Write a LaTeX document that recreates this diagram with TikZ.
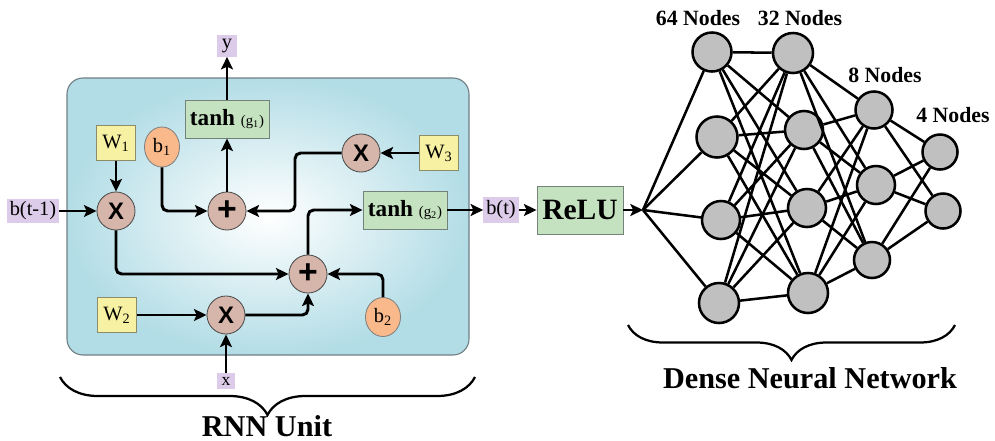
\documentclass[tikz,border=0pt]{standalone}
\usepackage{fontspec}
\setmainfont{Liberation Serif}
\newfontfamily\opfont{Liberation Sans}
\usetikzlibrary{arrows.meta,shapes.geometric,decorations.pathreplacing}

\definecolor{rnnblue}{HTML}{B3DDE6}
\definecolor{rnnborder}{HTML}{6F7F84}
\definecolor{iopurple}{HTML}{DCCBE9}
\definecolor{wyellow}{HTML}{F6F1A3}
\definecolor{wborder}{HTML}{8C8C6A}
\definecolor{actgreen}{HTML}{C4E2BF}
\definecolor{actborder}{HTML}{74837A}
\definecolor{opbrown}{HTML}{D6B6AB}
\definecolor{borange}{HTML}{F9B98B}
\definecolor{nodegray}{HTML}{C0C0C0}

\begin{document}
\begin{tikzpicture}[x=0.025cm,y=-0.025cm,
        op/.style={circle, draw=black!70, line width=0.6pt, fill=opbrown, minimum size=9.5mm, inner sep=0pt, font=\opfont\bfseries\fontsize{17}{17}\selectfont},
        plusop/.style={op, font=\opfont\bfseries\fontsize{24}{24}\selectfont},
        wbox/.style={rectangle, draw=wborder, line width=0.6pt, fill=wyellow, minimum width=9.75mm, minimum height=8.75mm, inner sep=0pt, font=\fontsize{14.5}{14.5}\selectfont},
        bias/.style={ellipse, draw=black!50, line width=0.6pt, fill=borange, minimum width=8.75mm, minimum height=10mm, inner sep=0pt, font=\fontsize{14.5}{14.5}\selectfont},
        act/.style={rectangle, draw=actborder, line width=0.6pt, fill=actgreen, minimum width=21mm, minimum height=9.5mm, inner sep=0pt, font=\bfseries\fontsize{16.5}{16.5}\selectfont},
        io/.style={rectangle, fill=iopurple, inner sep=1.5pt, minimum height=6mm, font=\fontsize{14.5}{14.5}\selectfont},
        neuron/.style={circle, draw, line width=1.8pt, fill=nodegray, inner sep=0pt},
        conn/.style={line width=2.1pt, -{Stealth[length=9pt,width=8.5pt,inset=2pt]}, rounded corners=4pt},
        net/.style={line width=1.8pt},
        layerlabel/.style={font=\bfseries\fontsize{15.5}{16}\selectfont},
        title/.style={font=\bfseries\fontsize{21.5}{22}\selectfont},
        bracket/.style={decorate, line width=1.6pt}]
        \useasboundingbox (0,0) rectangle (995,441);
        \shade[draw=rnnborder, line width=0.8pt, rounded corners=4mm, inner color=white, outer color=rnnblue] (67,78) rectangle (469,355);

        \node[io, minimum width=4.75mm, minimum height=5.25mm] (yout) at (227,46) {y};
        \node[act] (tanh1) at (227,119) {tanh {\mdseries\fontsize{10.5}{10}\selectfont(g\textsubscript{1})}};
        \node[wbox] (w1) at (116,143) {W\textsubscript{1}};
        \node[bias] (b1) at (162,147) {b\textsubscript{1}};
        \node[io, minimum width=12.75mm] (bprev) at (33,211) {b(t-1)};
        \node[op] (x1) at (116,211) {X};
        \node[plusop] (plus1) at (227,211) {+};
        \node[op] (x3) at (361,153) {X};
        \node[wbox] (w3) at (439,153) {W\textsubscript{3}};
        \node[act] (tanh2) at (405,210) {tanh {\mdseries\fontsize{10.5}{10}\selectfont(g\textsubscript{2})}};
        \node[io, minimum width=8.75mm, minimum height=6.5mm] (bt) at (501,210) {b(t)};
        \node[act, minimum width=21.5mm, minimum height=12mm, font=\bfseries\fontsize{21}{21}\selectfont] (relu) at (580,210) {ReLU};
        \node[plusop] (plus2) at (308,274) {+};
        \node[op] (x2) at (226,315) {X};
        \node[wbox] (w2) at (117,315) {W\textsubscript{2}};
        \node[bias, minimum height=9.75mm] (b2) at (383,317) {b\textsubscript{2}};
        \node[io, minimum width=4.25mm, minimum height=4mm, inner sep=0.5pt, font=\fontsize{12.5}{12}\selectfont] (xin) at (226,381) {x};

        \coordinate (bend3) at (295,153);
        \coordinate (fan) at (643,210);
        \draw[conn] (bprev) -- (x1);
        \draw[conn] (w1) -- (x1);
        \draw[conn] (x1) |- (plus2);
        \draw[conn] (b1) |- (plus1);
        \draw[conn] (w3) -- (x3);
        \draw[conn] (x3) -- (bend3) |- (plus1);
        \draw[conn] (plus1) -- (tanh1);
        \draw[conn] (tanh1) -- (yout);
        \draw[conn] (plus2) |- (tanh2);
        \draw[conn] (tanh2) -- (bt);
        \draw[conn] (bt) -- (relu);
        \draw[conn] (w2) -- (x2);
        \draw[conn] (xin) -- (x2);
        \draw[conn] (x2) -| (plus2);
        \draw[conn] (b2) |- (plus2);
        \draw[conn] (relu) -- (fan);

        \foreach \i/\x/\y/\d in {1/712/52/9.75mm, 2/717/137/10.25mm, 3/721/220/9.5mm, 4/719/303/10mm}{
            \node[neuron, minimum size=\d] (n1-\i) at (\x,\y) {};
        }
        \foreach \i/\x/\y/\d in {1/793/53/10mm, 2/804/130/9.5mm, 3/807/208/9.5mm, 4/808/293/10mm}{
            \node[neuron, minimum size=\d] (n2-\i) at (\x,\y) {};
        }
        \foreach \i/\x/\y/\d in {1/874/110/9.25mm, 2/876/185/9.5mm, 3/872/260/9mm}{
            \node[neuron, minimum size=\d] (n3-\i) at (\x,\y) {};
        }
        \foreach \i/\x/\y/\d in {1/940/152/8.75mm, 2/943/211/8.75mm}{
            \node[neuron, minimum size=\d] (n4-\i) at (\x,\y) {};
        }
        \foreach \i in {1,...,4}{
            \draw[net] (fan) -- (n1-\i);
            \foreach \j in {1,...,4}
                \draw[net] (n1-\i) -- (n2-\j);
            \foreach \j in {1,...,3}
                \draw[net] (n2-\i) -- (n3-\j);
        }
        \foreach \i in {1,...,3}
            \foreach \j in {1,2}
                \draw[net] (n3-\i) -- (n4-\j);

        \node[layerlabel] (lab64) at (698,18) {64 Nodes};
        \node[layerlabel] (lab32) at (800,18) {32 Nodes};
        \node[layerlabel] (lab8) at (885,75) {8 Nodes};
        \node[layerlabel] (lab4) at (953,115) {4 Nodes};

        \draw[bracket, decoration={brace, mirror, amplitude=9.5mm}] (60,377) -- (475,377);
        \node[title] (rnnlab) at (267,426) {RNN Unit};
        \draw[bracket, decoration={brace, mirror, amplitude=8.75mm}] (628,325) -- (955,325);
        \node[title] (dnnlab) at (810,378) {Dense Neural Network};
    \end{tikzpicture}
\end{document}
